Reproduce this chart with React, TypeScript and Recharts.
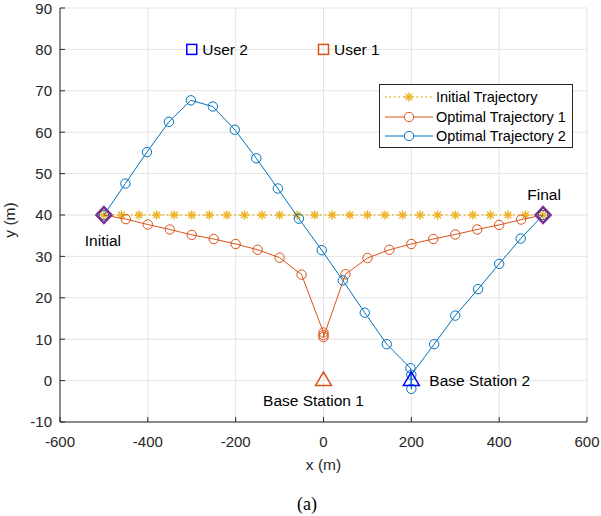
import {
  CartesianGrid,
  Legend,
  Scatter,
  ScatterChart,
  XAxis,
  YAxis,
} from 'recharts'

// initial (straight) trajectory
const initialX = [
  -500, -460, -420, -380, -340, -300, -260, -220, -180, -140, -100, -60, -20,
  20, 60, 100, 140, 180, 220, 260, 300, 340, 380, 420, 460, 500,
]
const initialY = [
  40, 40, 40, 40, 40, 40, 40, 40, 40, 40, 40, 40, 40,
  40, 40, 40, 40, 40, 40, 40, 40, 40, 40, 40, 40, 40,
]

// optimal trajectory 1
const opt1X = [
  -500, -450, -400, -350, -300, -250, -200, -150, -100, -50, 0, 0, 0,
  50, 100, 150, 200, 250, 300, 350, 400, 450, 500,
]
const opt1Y = [
  40, 39.0, 37.7, 36.5, 35.2, 34.2, 33.0, 31.6, 29.7, 25.6, 11.6, 11.0, 10.5,
  25.7, 29.6, 31.6, 33.0, 34.2, 35.3, 36.5, 37.6, 38.9, 40,
]

// optimal trajectory 2
const opt2X = [
  -500, -451, -402, -352, -302, -252, -202, -153, -104, -56, -4, 44, 94,
  144, 198, 200, 200, 252, 300, 352, 400, 449, 500,
]
const opt2Y = [
  40, 47.6, 55.2, 62.5, 67.7, 66.2, 60.6, 53.7, 46.4, 39.1, 31.5, 24.2, 16.4,
  8.8, 3.0, -2.0, 1.4, 8.8, 15.7, 22.1, 28.2, 34.3, 40,
]

const userX = [0, -300]
const userY = [80, 80]
const userNames = ['User 1', 'User 2']

const stationX = [0, 200]
const stationY = [0, 0]
const stationNames = ['Base Station 1', 'Base Station 2']

const endX = [-500, 500]
const endY = [40, 40]
const endNames = ['Initial', 'Final']

const xTicks = [-600, -400, -200, 0, 200, 400, 600]
const yTicks = [-10, 0, 10, 20, 30, 40, 50, 60, 70, 80, 90]

const legendNames = ['Initial Trajectory', 'Optimal Trajectory 1', 'Optimal Trajectory 2']

const ORANGE = '#D95319'
const BLUE = '#0072BD'
const YELLOW = '#EDB120'
const PURPLE = '#7E2F8E'
const AXIS = '#262626'

const toPoints = (xs: number[], ys: number[]) => xs.map((x, i) => ({ x, y: ys[i] }))

const Star = ({ cx, cy }: any) => {
  const r = 4.6
  const d = r * 0.72
  return (
    <g stroke={YELLOW} strokeWidth={1.4}>
      <line x1={cx - r} y1={cy} x2={cx + r} y2={cy} />
      <line x1={cx} y1={cy - r} x2={cx} y2={cy + r} />
      <line x1={cx - d} y1={cy - d} x2={cx + d} y2={cy + d} />
      <line x1={cx - d} y1={cy + d} x2={cx + d} y2={cy - d} />
    </g>
  )
}

const ring = (color: string) => ({ cx, cy }: any) => (
  <circle cx={cx} cy={cy} r={4.7} fill="none" stroke={color} strokeWidth={1} />
)

const userColors = [ORANGE, '#0000FF']
const stationColors = [ORANGE, '#0000FF']

const LegendBox = () => (
  <div
    style={{
      width: 194,
      height: 64,
      boxSizing: 'border-box',
      border: `1px solid ${AXIS}`,
      background: '#fff',
      fontSize: 14.5,
      color: '#000',
      paddingTop: 2,
    }}
  >
    {legendNames.map((name, i) => (
      <div key={name} style={{ display: 'flex', alignItems: 'center', height: 19.7 }}>
        <svg width={54} height={18} style={{ marginLeft: 5 }}>
          {i === 0 ? (
            <>
              <line x1={0} y1={9} x2={48} y2={9} stroke={YELLOW} strokeWidth={1.4} strokeDasharray="1.5 3" />
              <Star cx={24} cy={9} />
            </>
          ) : (
            <>
              <line x1={0} y1={9} x2={48} y2={9} stroke={i === 1 ? ORANGE : BLUE} strokeWidth={1} />
              <circle cx={24} cy={9} r={4.7} fill="#fff" stroke={i === 1 ? ORANGE : BLUE} strokeWidth={1} />
            </>
          )}
        </svg>
        <span style={{ marginLeft: -3, whiteSpace: 'nowrap' }}>{name}</span>
      </div>
    ))}
  </div>
)

export default function App() {
  const tickStyle = { fill: AXIS, fontSize: 15 }
  return (
    <div
      style={{
        position: 'absolute',
        left: 0,
        top: 0,
        width: 601,
        height: 516,
        background: '#fff',
        fontFamily: '"Liberation Sans", Arial, sans-serif',
      }}
    >
      <ScatterChart width={601} height={516} margin={{ top: 8, right: 14, bottom: 44, left: 0 }}>
        <CartesianGrid stroke="#e3e3e3" strokeWidth={1} />
        <XAxis
          type="number"
          dataKey="x"
          domain={[-600, 600]}
          ticks={xTicks}
          allowDataOverflow
          height={50}
          tickSize={-5}
          tickMargin={19}
          tick={tickStyle}
          tickLine={{ stroke: AXIS }}
          axisLine={{ stroke: AXIS }}
          label={{
            content: ({ viewBox }: any) => (
              <text x={viewBox.x + viewBox.width / 2} y={470} textAnchor="middle" fontSize={15.5} fill={AXIS}>
                x (m)
              </text>
            ),
          }}
        />
        <XAxis
          xAxisId="top"
          orientation="top"
          type="number"
          dataKey="x"
          domain={[-600, 600]}
          ticks={xTicks}
          allowDataOverflow
          height={0}
          tickSize={-5}
          tickFormatter={() => ''}
          tickLine={{ stroke: AXIS }}
          axisLine={{ stroke: AXIS }}
        />
        <YAxis
          type="number"
          dataKey="y"
          domain={[-10, 90]}
          ticks={yTicks}
          allowDataOverflow
          width={60}
          tickSize={-5}
          tickMargin={13}
          tick={tickStyle}
          tickLine={{ stroke: AXIS }}
          axisLine={{ stroke: AXIS }}
          label={{
            content: ({ viewBox }: any) => {
              const cy = viewBox.y + viewBox.height / 2 + 5
              return (
                <text x={15} y={cy} transform={`rotate(-90 15 ${cy})`} textAnchor="middle" fontSize={15.5} fill={AXIS}>
                  y (m)
                </text>
              )
            },
          }}
        />
        <YAxis
          yAxisId="right"
          orientation="right"
          type="number"
          dataKey="y"
          domain={[-10, 90]}
          ticks={yTicks}
          allowDataOverflow
          width={0}
          tickSize={-5}
          tickFormatter={() => ''}
          tickLine={{ stroke: AXIS }}
          axisLine={{ stroke: AXIS }}
        />
        <Legend
          layout="vertical"
          align="center"
          verticalAlign="middle"
          wrapperStyle={{ position: 'absolute', left: 379, top: 84, width: 194, height: 64 }}
          content={() => <LegendBox />}
        />

        <Scatter
          name="Initial Trajectory"
          data={toPoints(initialX, initialY)}
          line={{ stroke: YELLOW, strokeWidth: 1.4, strokeDasharray: '1.5 3' }}
          lineJointType="linear"
          shape={Star}
          isAnimationActive={false}
        />
        <Scatter
          name="Optimal Trajectory 1"
          data={toPoints(opt1X, opt1Y)}
          line={{ stroke: ORANGE, strokeWidth: 1 }}
          lineJointType="linear"
          shape={ring(ORANGE)}
          isAnimationActive={false}
        />
        <Scatter
          name="Optimal Trajectory 2"
          data={toPoints(opt2X, opt2Y)}
          line={{ stroke: BLUE, strokeWidth: 1 }}
          lineJointType="linear"
          shape={ring(BLUE)}
          isAnimationActive={false}
        />

        {userX.map((ux, i) => (
          <Scatter
            key={userNames[i]}
            legendType="none"
            data={[{ x: ux, y: userY[i] }]}
            isAnimationActive={false}
            shape={({ cx, cy }: any) => (
              <g>
                <rect x={cx - 5} y={cy - 5} width={10} height={10} fill="none" stroke={userColors[i]} strokeWidth={1.5} />
                <text x={cx + 10.5} y={cy + 5.5} fontSize={15.5} fill="#000">
                  {userNames[i]}
                </text>
              </g>
            )}
          />
        ))}

        {stationX.map((sx, i) => (
          <Scatter
            key={stationNames[i]}
            legendType="none"
            data={[{ x: sx, y: stationY[i] }]}
            isAnimationActive={false}
            shape={({ cx, cy }: any) => (
              <g>
                <polygon
                  points={`${cx},${cy - 8.6} ${cx + 8},${cy + 4.8} ${cx - 8},${cy + 4.8}`}
                  fill="none"
                  stroke={stationColors[i]}
                  strokeWidth={1.5}
                />
                {i === 0 ? (
                  <text x={cx - 10} y={cy + 25} textAnchor="middle" fontSize={15.5} fill="#000">
                    {stationNames[i]}
                  </text>
                ) : (
                  <text x={cx + 18} y={cy + 5.5} fontSize={15.5} fill="#000">
                    {stationNames[i]}
                  </text>
                )}
              </g>
            )}
          />
        ))}

        {endX.map((ex, i) => (
          <Scatter
            key={endNames[i]}
            legendType="none"
            data={[{ x: ex, y: endY[i] }]}
            isAnimationActive={false}
            shape={({ cx, cy }: any) => (
              <g>
                <polygon
                  points={`${cx},${cy - 8} ${cx + 7.5},${cy} ${cx},${cy + 8} ${cx - 7.5},${cy}`}
                  fill="none"
                  stroke={PURPLE}
                  strokeWidth={2.5}
                />
                <text
                  x={cx + (i === 0 ? -1 : 1)}
                  y={i === 0 ? cy + 31 : cy - 15}
                  textAnchor="middle"
                  fontSize={15.5}
                  fill="#000"
                >
                  {endNames[i]}
                </text>
              </g>
            )}
          />
        ))}
      </ScatterChart>
      <div
        style={{
          position: 'absolute',
          left: 0,
          width: 614,
          top: 493,
          textAlign: 'center',
          fontFamily: '"Liberation Serif", "Times New Roman", serif',
          fontSize: 18,
          lineHeight: '22px',
          color: '#000',
        }}
      >
        (a)
      </div>
    </div>
  )
}
